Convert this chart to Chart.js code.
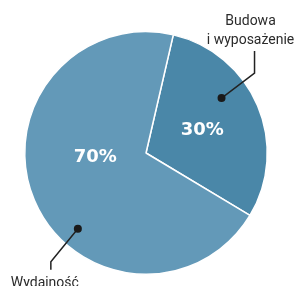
<!DOCTYPE html>
<html>
<head>
<meta charset="utf-8">
<script src="https://cdn.jsdelivr.net/npm/chart.js@4"></script>
<style>
  html, body { margin: 0; padding: 0; background: #fff; }
  #wrap { width: 298px; height: 286px; position: relative; }
</style>
</head>
<body>
<div id="wrap"><canvas id="pieChart"></canvas></div>
<script>
// data
const labels = ["Budowa\ni wyposażenie", "Wydajność"];
const values = [30, 70];
const colors = ["#4a87a8", "#6399b8"];

// where to put the % text and the callout dot inside each slice (angle offset from mid, fraction of radius)
const pctSpot = [{ da: 1, f: 0.5 }, { da: 18, f: 0.42 }];
const dotSpot = [{ da: -13, f: 0.77 }, { da: -25, f: 0.84 }];

function polar(cx, cy, deg, r) {
  const a = (deg - 90) * Math.PI / 180;
  return { x: cx + Math.cos(a) * r, y: cy + Math.sin(a) * r };
}

const calloutPlugin = {
  id: 'callouts',
  afterDraw(chart) {
    const ctx = chart.ctx;
    const meta = chart.getDatasetMeta(0);
    const total = values.reduce((a, b) => a + b, 0);
    ctx.save();
    meta.data.forEach((arc, i) => {
      const cx = arc.x, cy = arc.y, r = arc.outerRadius;
      const mid = ((arc.startAngle + arc.endAngle) / 2) * 180 / Math.PI + 90;

      // percentage
      const p = polar(cx, cy, mid + pctSpot[i].da, r * pctSpot[i].f);
      ctx.fillStyle = "#ffffff";
      ctx.font = "bold 18px 'DejaVu Sans'";
      ctx.textAlign = "center";
      ctx.textBaseline = "middle";
      ctx.fillText(Math.round(values[i] / total * 100) + "%", p.x, p.y);

      // callout dot + leader line
      const d = polar(cx, cy, mid + dotSpot[i].da, r * dotSpot[i].f);
      ctx.strokeStyle = "#222";
      ctx.lineWidth = 1.5;
      ctx.beginPath();
      if (i === 0) {
        ctx.moveTo(d.x, d.y);
        ctx.lineTo(d.x + 33, d.y - 25);
        ctx.lineTo(d.x + 33, d.y - 47);
      } else {
        ctx.moveTo(d.x, d.y);
        ctx.lineTo(d.x - 27, d.y + 33);
        ctx.lineTo(d.x - 27, d.y + 41);
      }
      ctx.stroke();
      ctx.fillStyle = "#1a1a1a";
      ctx.beginPath();
      ctx.arc(d.x, d.y, 4, 0, Math.PI * 2);
      ctx.fill();

      // label text
      ctx.fillStyle = "#2b2b2b";
      ctx.font = "14px Roboto";
      ctx.textAlign = "center";
      ctx.textBaseline = "alphabetic";
      const lines = labels[i].split("\n");
      if (i === 0) {
        lines.forEach((t, k) => ctx.fillText(t, d.x + 29, d.y - 73 + k * 19));
      } else {
        ctx.fillText(lines[0], d.x - 33, d.y + 58);
      }
    });
    ctx.restore();
  }
};

new Chart(document.getElementById('pieChart').getContext('2d'), {
  type: 'pie',
  data: {
    labels: labels,
    datasets: [{
      data: values,
      backgroundColor: colors,
      borderColor: "#ffffff",
      borderWidth: 1.5,
      hoverOffset: 0
    }]
  },
  options: {
    responsive: true,
    maintainAspectRatio: false,
    animation: false,
    rotation: 13,
    layout: { padding: { left: 24, top: 31, right: 30, bottom: 11 } },
    plugins: {
      legend: { display: false },
      tooltip: { enabled: false }
    }
  },
  plugins: [calloutPlugin]
});
</script>
</body>
</html>
